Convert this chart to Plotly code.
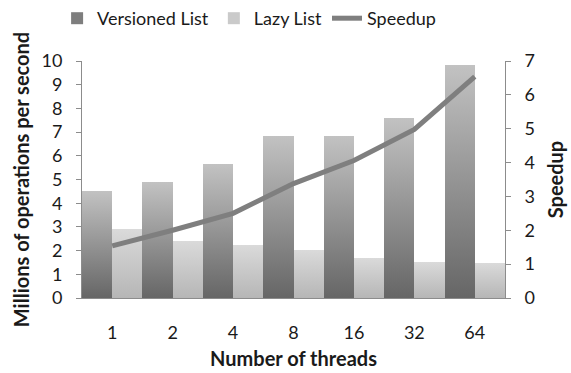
import plotly.graph_objects as go

# Throughput and speedup by thread count
threads = ["1", "2", "4", "8", "16", "32", "64"]
versioned_list = [4.52, 4.88, 5.65, 6.84, 6.84, 7.61, 9.84]
lazy_list = [2.91, 2.40, 2.25, 2.01, 1.67, 1.53, 1.49]
speedup = [1.54, 2.00, 2.50, 3.38, 4.06, 4.98, 6.54]

FONT = "Lato, 'Open Sans', sans-serif"
AXIS_GREY = "#8c8c8c"
TEXT = "#1a1a1a"
TICK_SIZE = 18
TITLE_SIZE = 20

fig = go.Figure()
fig.add_trace(go.Bar(
    x=threads, y=versioned_list, name="Versioned List",
    marker=dict(color="#7e7e7e", line=dict(width=0)),
))
fig.add_trace(go.Bar(
    x=threads, y=lazy_list, name="Lazy List",
    marker=dict(color="#cacaca", line=dict(width=0)),
))
fig.add_trace(go.Scatter(
    x=threads, y=speedup, name="Speedup", yaxis="y2", mode="lines",
    line=dict(color="#7f7f7f", width=5),
))

axis_common = dict(
    showgrid=False, zeroline=False, showline=True, linecolor=AXIS_GREY, linewidth=1,
    ticks="outside", ticklen=5, tickcolor=AXIS_GREY, automargin=False,
    tickfont=dict(family=FONT, size=TICK_SIZE, color=TEXT),
)

fig.update_layout(
    width=571, height=373,
    margin=dict(l=82, r=66, t=61, b=75),
    paper_bgcolor="white", plot_bgcolor="white",
    barmode="group", bargap=0, bargroupgap=0,
    font=dict(family=FONT, size=TICK_SIZE, color=TEXT),
    xaxis=dict(
        showgrid=False, zeroline=False, showline=True, linecolor=AXIS_GREY, automargin=False,
        ticks="", ticklabelstandoff=18, tickfont=dict(family=FONT, size=TICK_SIZE, color=TEXT),
        title=dict(text="<b>Number of threads</b>", font=dict(family=FONT, size=TITLE_SIZE, color=TEXT), standoff=10),
    ),
    yaxis=dict(
        range=[0, 10], dtick=1, ticklabelstandoff=10, **axis_common,
        title=dict(text="<b>Millions of operations per second</b>", font=dict(family=FONT, size=TITLE_SIZE, color=TEXT), standoff=6),
    ),
    yaxis2=dict(
        range=[0, 7], dtick=1, overlaying="y", side="right", ticklabelstandoff=10, **axis_common,
        title=dict(text="<b>Speedup</b>", font=dict(family=FONT, size=TITLE_SIZE, color=TEXT), standoff=14),
    ),
    legend=dict(
        orientation="h", xref="container", x=0.1, xanchor="left",
        yref="container", y=1.0, yanchor="top",
        font=dict(family=FONT, size=TICK_SIZE, color=TEXT),
        itemwidth=30, bgcolor="rgba(0,0,0,0)",
    ),
    showlegend=True,
)

# Vertical shading on the bars: light at the top, darker towards the base
post = """
var gd = document.getElementById('{plot_id}');
function shade() {
  var svg = gd.querySelector('.main-svg');
  var ns = 'http://www.w3.org/2000/svg';
  var defs = svg.querySelector('defs');
  function grad(id, top, bottom) {
    if (svg.querySelector('#' + id)) return;
    var g = document.createElementNS(ns, 'linearGradient');
    g.setAttribute('id', id);
    g.setAttribute('x1', '0'); g.setAttribute('y1', '0');
    g.setAttribute('x2', '0'); g.setAttribute('y2', '1');
    [[0, top], [1, bottom]].forEach(function (s) {
      var st = document.createElementNS(ns, 'stop');
      st.setAttribute('offset', s[0]);
      st.setAttribute('stop-color', s[1]);
      g.appendChild(st);
    });
    defs.appendChild(g);
  }
  grad('shadeVersioned', '#c2c2c2', '#666666');
  grad('shadeLazy', '#dadada', '#b6b6b6');
  var traces = gd.querySelectorAll('.barlayer .trace.bars');
  var ids = ['shadeVersioned', 'shadeLazy'];
  traces.forEach(function (t, i) {
    t.querySelectorAll('.point path').forEach(function (p) {
      p.style.fill = 'url(#' + ids[i] + ')';
    });
  });
}
shade();
"""

fig.write_html("out.html", post_script=post)
